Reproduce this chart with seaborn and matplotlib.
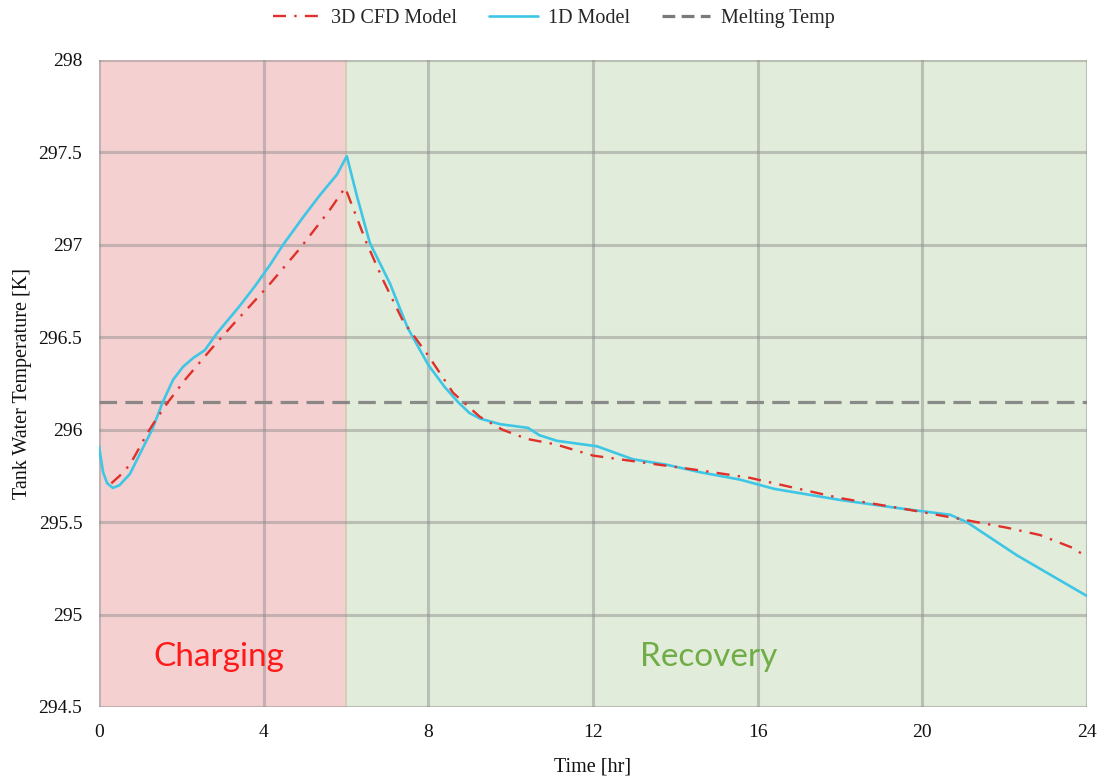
import numpy as np
import pandas as pd
import matplotlib
matplotlib.use("Agg")
import matplotlib.pyplot as plt
from matplotlib.lines import Line2D
import seaborn as sns

# Tank water temperature over a charging / recovery cycle
cfd_time = [0.3, 0.5, 0.75, 1.0, 1.17, 1.4, 1.68, 2.09, 2.7, 3.26, 4.08, 4.88, 5.61,
            5.98, 6.1, 6.5, 6.9, 7.38, 8.0, 8.6, 9.25, 9.8, 10.4, 11.1, 12.0, 12.97,
            14.6, 15.8, 16.6, 18.0, 19.6, 20.84, 22.05, 22.86, 23.66, 24.0]
cfd_temp = [295.71, 295.75, 295.81, 295.91, 295.98, 296.06, 296.15, 296.27, 296.43,
            296.57, 296.77, 296.98, 297.19, 297.31, 297.24, 297.01, 296.81, 296.59,
            296.40, 296.20, 296.07, 296.00, 295.95, 295.92, 295.86, 295.83, 295.78,
            295.74, 295.70, 295.63, 295.57, 295.52, 295.47, 295.43, 295.36, 295.31]

model1d_time = [0, 0.1, 0.2, 0.34, 0.5, 0.75, 1.04, 1.29, 1.55, 1.8, 2.04, 2.3, 2.57,
                2.86, 3.42, 3.8, 4.15, 4.47, 4.96, 5.37, 5.78, 6.02, 6.27, 6.58, 7.07,
                7.5, 8.0, 8.4, 8.72, 9.0, 9.26, 9.74, 10.42, 10.7, 11.12, 12.1, 12.97,
                13.8, 14.6, 15.57, 16.4, 18.0, 19.6, 20.67, 21.08, 22.3, 24.0]
model1d_temp = [295.91, 295.77, 295.71, 295.685, 295.70, 295.76, 295.89, 296.00, 296.15,
                296.27, 296.34, 296.39, 296.43, 296.52, 296.67, 296.78, 296.89, 297.00,
                297.15, 297.27, 297.38, 297.48, 297.26, 297.01, 296.79, 296.55, 296.35,
                296.23, 296.15, 296.09, 296.06, 296.03, 296.01, 295.97, 295.94, 295.91,
                295.84, 295.81, 295.77, 295.73, 295.68, 295.62, 295.57, 295.54, 295.50,
                295.32, 295.10]

melting_temp = 296.15
phase_bounds = [0, 6, 24]
phase_names = ["Charging", "Recovery"]
x_ticks = [0, 4, 8, 12, 16, 20, 24]
y_ticks = [294.5, 295, 295.5, 296, 296.5, 297, 297.5, 298]

sns.set_style("white")
plt.rcParams["font.family"] = ["Liberation Serif", "DejaVu Serif"]

fig = plt.figure(figsize=(11.07, 7.80), dpi=100)
ax = fig.add_axes([0.0894, 0.0936, 0.8926, 0.8295])

# phase shading
ax.axvspan(phase_bounds[0], phase_bounds[1], facecolor="#f4d0d0", edgecolor="none", zorder=0)
ax.axvspan(phase_bounds[1], phase_bounds[2], facecolor="#e2ecda", edgecolor="none", zorder=0)
ax.axvline(phase_bounds[1], color="#d8c8b0", lw=1.2, zorder=0.5)

ax.set_xlim(0, 24)
ax.set_ylim(294.5, 298)
ax.set_xticks(x_ticks)
ax.set_xticklabels([str(t) for t in x_ticks])
ax.set_yticks(y_ticks)
ax.set_yticklabels([f"{v:g}" for v in y_ticks])
ax.grid(True, color="#8a8a8a", alpha=0.45, lw=2.2, zorder=1)
ax.set_axisbelow(False)
for s in ax.spines.values():
    s.set_visible(False)
ax.tick_params(axis="both", length=0, labelsize=14, labelcolor="#111111")
ax.tick_params(axis="x", pad=12)
ax.tick_params(axis="y", pad=12)

# melting temperature
ax.axhline(melting_temp, color="#7a7a7a", lw=2.3, dashes=(5.5, 2.6), alpha=0.85, zorder=2)

cfd = pd.DataFrame({"t": cfd_time, "T": cfd_temp})
m1d = pd.DataFrame({"t": model1d_time, "T": model1d_temp})
sns.lineplot(data=m1d, x="t", y="T", ax=ax, color="#3ec6e6", lw=1.9, sort=False,
             estimator=None, zorder=3)
sns.lineplot(data=cfd, x="t", y="T", ax=ax, color="#e0302a", lw=1.7, sort=False,
             estimator=None, zorder=4, dashes=False)
ax.lines[-1].set_dashes((5.5, 3.5, 1, 3.5))

ax.set_xlabel("Time [hr]", fontsize=14.5, labelpad=12, color="#111111")
ax.set_ylabel("Tank Water Temperature [K]", fontsize=14.5, labelpad=5, color="#111111")

ax.text(2.92, 294.77, phase_names[0], color="#ff1a1a", fontsize=24,
        family=["Lato", "DejaVu Sans"], ha="center", va="center", zorder=5)
ax.text(14.8, 294.77, phase_names[1], color="#70ad47", fontsize=24,
        family=["Lato", "DejaVu Sans"], ha="center", va="center", zorder=5)

handles = [
    Line2D([], [], color="#e0302a", lw=1.7, dashes=(5.5, 3.5, 1, 3.5)),
    Line2D([], [], color="#3ec6e6", lw=1.9),
    Line2D([], [], color="#7a7a7a", lw=2.3, dashes=(4, 2)),
]
fig.legend(handles, ["3D CFD Model", "1D Model", "Melting Temp"], loc="upper center",
           bbox_to_anchor=(0.5, 1.012), ncol=3, frameon=False, fontsize=14.5,
           handlelength=2.4, handletextpad=0.5, columnspacing=1.6)

fig.savefig("out.png", dpi=100, facecolor="white")
